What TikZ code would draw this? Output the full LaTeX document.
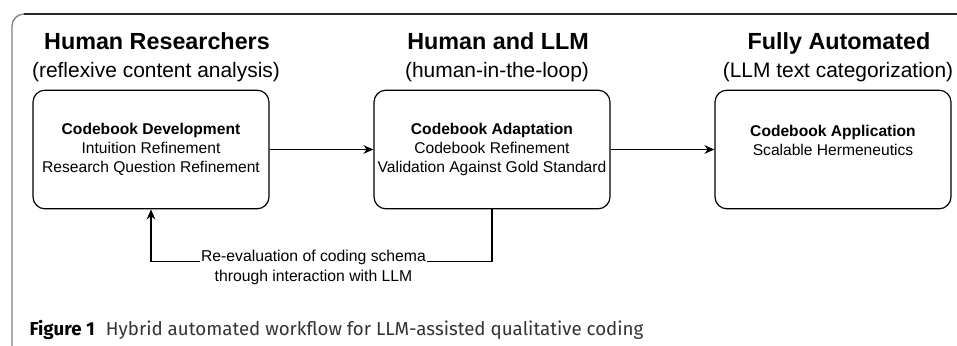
\documentclass[tikz,border=0pt]{standalone}
\usepackage{fontspec}
\setmainfont{Liberation Sans}
\newfontfamily\capfont{Fira Sans}
\usetikzlibrary{arrows.meta}

\begin{document}
\begin{tikzpicture}[x=0.75pt, y=-0.75pt, >={Stealth[length=7.5pt,width=6.5pt]}, line width=0.9pt]
    \tikzstyle{stage}=[draw, rounded corners=9pt, minimum width=177pt, minimum height=89pt, align=center, inner sep=0pt, font=\fontsize{11.7}{14.1}\selectfont]
    \tikzstyle{heading}=[anchor=base, inner sep=0pt, font=\fontsize{17.5}{21}\selectfont\bfseries]
    \tikzstyle{subheading}=[anchor=base, inner sep=0pt, font=\fontsize{15.7}{19}\selectfont]
    \tikzstyle{loop label}=[fill=white, align=center, inner xsep=1pt, inner ysep=0pt, font=\fontsize{11.8}{15}\selectfont]

    \useasboundingbox (0,0) rectangle (957,346);

    % outer frame
    \draw[black!50, line width=1pt, rounded corners=9pt] (12,346) -- (12,14) -- (24,14);
    \draw[black!85, line width=0.9pt] (24,14) -- (957,14);

    % the three stages with their headings
    \foreach \n/\cx/\head/\sub/\body in {
      1/151/Human Researchers/(reflexive content analysis)/{\textbf{Codebook Development}\\Intuition Refinement\\Research Question Refinement},
      2/492/Human and LLM/(human-in-the-loop)/{\textbf{Codebook Adaptation}\\Codebook Refinement\\Validation Against Gold Standard},
      3/833/Fully Automated/(LLM text categorization)/{\textbf{Codebook Application}\\Scalable Hermeneutics\\\mbox{}}}
    {
    \node [stage] (stage-\n) at (\cx,149.5) {\body};
    \node [heading] (head-\n) at (\cx+6,50) {\head};
    \node [subheading] (sub-\n) at (\cx+5,78) {\sub};
    }

    % forward arrows
    \foreach \i/\j in {1/2, 2/3}
    \draw[->] (stage-\i) -- (stage-\j);

    % feedback loop back to the first stage
    \draw[->] (stage-2.south) -- ++(0,52) -| (stage-1.south)
    node[loop label, pos=0.25, xshift=-6pt, yshift=-4.5pt] {Re-evaluation of coding schema\\through interaction with LLM};

    % caption
    \node[anchor=base west, inner sep=0pt, font=\capfont\fontsize{14.05}{17}\selectfont] (caption) at (29,335)
    {\textbf{Figure 1}\hspace{0.6em}\textcolor{black!80}{Hybrid automated workflow for LLM-assisted qualitative coding}};

\end{tikzpicture}
\end{document}
